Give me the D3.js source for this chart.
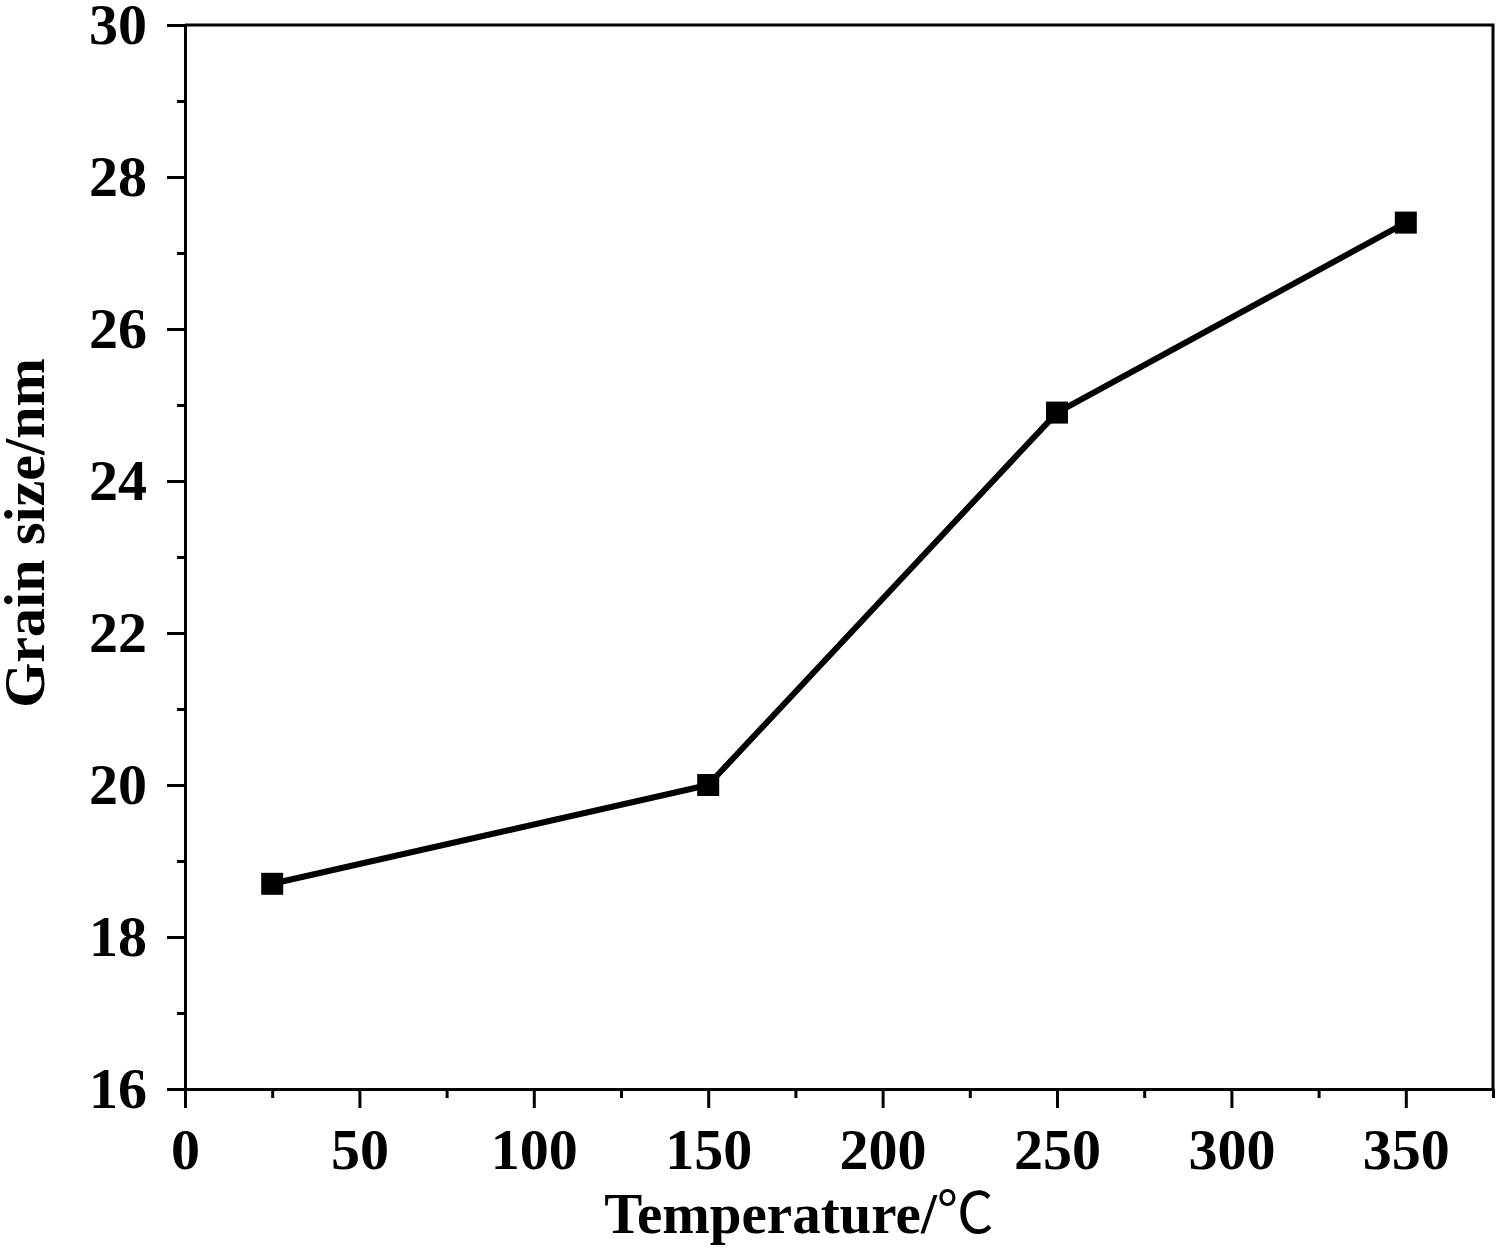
<!DOCTYPE html>
<html>
<head>
<meta charset="utf-8">
<script src="https://cdn.jsdelivr.net/npm/d3@7/dist/d3.min.js"></script>
<style>
  html, body { margin: 0; padding: 0; background: #fff; }
  svg { display: block; }
</style>
</head>
<body>
<svg id="chart" width="1500" height="1249"></svg>
<script>
const temperatures = [25, 150, 250, 350];
const grainSizes = [18.7, 20.0, 24.9, 27.4];
const xMajorTicks = [0, 50, 100, 150, 200, 250, 300, 350];
const xMinorTicks = [25, 75, 125, 175, 225, 275, 325, 375];
const yMajorTicks = [16, 18, 20, 22, 24, 26, 28, 30];
const yMinorTicks = [17, 19, 21, 23, 25, 27, 29];
const xTitle = "Temperature/";
const xUnit = "\u2103";
const yTitle = "Grain size/nm";

const SVG = d3.select("#chart");
const M = { top: 25, right: 7, bottom: 160, left: 185 };
const W = 1500 - M.left - M.right;
const H = 1249 - M.top - M.bottom;
const FONT = "'Liberation Serif', 'Times New Roman', serif";

const data = temperatures.map((t, i) => ({ t, v: grainSizes[i] }));

const x = d3.scaleLinear().domain([0, 375]).range([0, W]);
const y = d3.scaleLinear().domain([16, 30]).range([H, 0]);

const g = SVG.append("g").attr("transform", `translate(${M.left},${M.top})`);

// frame (top + right)
g.append("path")
  .attr("d", `M0,0H${W}V${H}`)
  .attr("fill", "none")
  .attr("stroke", "#000")
  .attr("stroke-width", 3);

// minor ticks
const xMinor = g.append("g").attr("transform", `translate(0,${H})`)
  .call(d3.axisBottom(x).tickValues(xMinorTicks).tickSize(9).tickFormat(""));
const yMinor = g.append("g")
  .call(d3.axisLeft(y).tickValues(yMinorTicks).tickSize(8).tickFormat(""));
[xMinor, yMinor].forEach(a => {
  a.select(".domain").remove();
  a.selectAll("line").attr("stroke", "#000").attr("stroke-width", 3);
});

// major axes
const xAxis = g.append("g").attr("transform", `translate(0,${H})`)
  .call(d3.axisBottom(x).tickValues(xMajorTicks).tickSize(19).tickSizeOuter(0).tickPadding(20));
const yAxis = g.append("g")
  .call(d3.axisLeft(y).tickValues(yMajorTicks).tickSize(18).tickSizeOuter(0).tickPadding(20));

[xAxis, yAxis].forEach(a => {
  a.select(".domain").attr("stroke", "#000").attr("stroke-width", 3);
  a.selectAll("line").attr("stroke", "#000").attr("stroke-width", 3);
  a.selectAll("text")
    .attr("fill", "#000")
    .style("font-family", FONT)
    .style("font-weight", "bold")
    .style("font-size", "58px");
});

// data line
const line = d3.line().x(d => x(d.t)).y(d => y(d.v));
g.append("path")
  .datum(data)
  .attr("fill", "none")
  .attr("stroke", "#000")
  .attr("stroke-width", 6)
  .attr("stroke-linecap", "round")
  .attr("stroke-linejoin", "round")
  .attr("d", line);

const S = 22;
g.append("g").selectAll("rect")
  .data(data)
  .join("rect")
  .attr("x", d => x(d.t) - S / 2)
  .attr("y", d => y(d.v) - S / 2)
  .attr("width", S)
  .attr("height", S)
  .attr("fill", "#000");

// axis titles
const xt = SVG.append("text")
  .attr("x", 799)
  .attr("y", 1233)
  .attr("text-anchor", "middle")
  .attr("fill", "#000")
  .style("font-family", FONT)
  .style("font-size", "57px");
xt.append("tspan").style("font-weight", "bold").text(xTitle);
xt.append("tspan").style("font-family", "'Noto Sans CJK SC', sans-serif").style("font-weight", "normal").text(xUnit);

SVG.append("text")
  .attr("transform", `translate(44,533) rotate(-90)`)
  .attr("text-anchor", "middle")
  .attr("fill", "#000")
  .style("font-family", FONT)
  .style("font-weight", "bold")
  .style("font-size", "58px")
  .text(yTitle);
</script>
</body>
</html>
